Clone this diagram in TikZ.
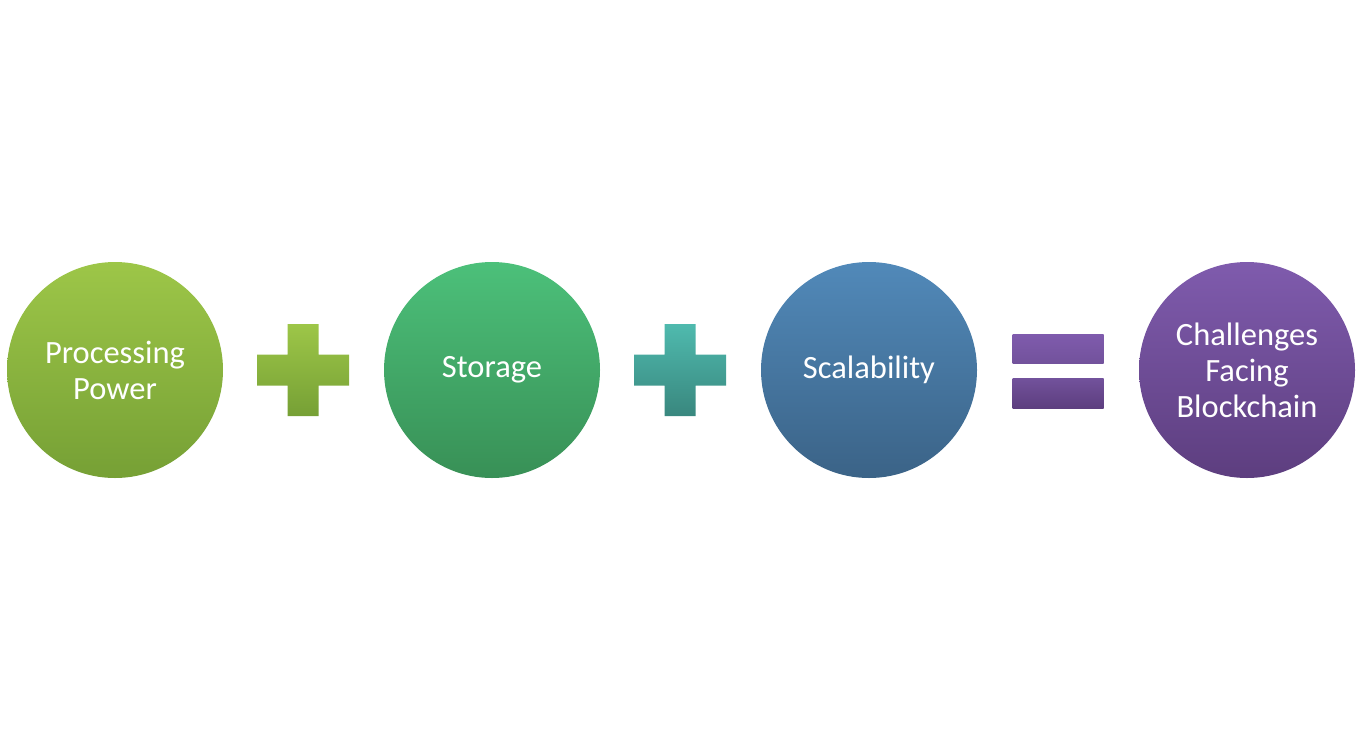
\documentclass[tikz,border=0pt]{standalone}
\usepackage{fontspec}
\setmainfont{Carlito}
\definecolor{gA}{HTML}{9DC648}\definecolor{gB}{HTML}{76A035}
\definecolor{sA}{HTML}{4CC07A}\definecolor{sB}{HTML}{389056}
\definecolor{bA}{HTML}{5189B9}\definecolor{bB}{HTML}{3B6387}
\definecolor{pA}{HTML}{7F5BAD}\definecolor{pB}{HTML}{5D3E7F}
\definecolor{tA}{HTML}{4FBAAE}\definecolor{tB}{HTML}{39877E}
\begin{document}
\begin{tikzpicture}[x=1pt,y=-1pt,
  bubble/.style={circle,minimum size=216pt,inner sep=0pt,text=white,align=center,
    font=\fontsize{32.5}{36}\selectfont},
  opbar/.style={rectangle,inner sep=0pt}]
\useasboundingbox (0,0) rectangle (1362,742);
\node[bubble,top color=gA,bottom color=gB] (pp) at (115,370) {Processing\\Power};
\node[bubble,top color=sA,bottom color=sB] (st) at (492,370) {Storage};
\node[bubble,top color=bA,bottom color=bB] (sc) at (869,370) {Scalability};
\node[bubble,top color=pA,bottom color=pB] (ch) at (1247,370) {Challenges\\Facing\\Blockchain};
% plus signs
\coordinate (p1) at (303,370);
\coordinate (p2) at (680,370);
\foreach \c/\ca/\cb in {p1/gA/gB,p2/tA/tB}{
  \shade[top color=\ca,bottom color=\cb] ([shift={(-15.5,-46)}]\c) -- ++(31,0) -- ++(0,30.5) -- ++(30.5,0) -- ++(0,31) -- ++(-30.5,0) -- ++(0,30.5) -- ++(-31,0) -- ++(0,-30.5) -- ++(-30.5,0) -- ++(0,-31) -- ++(30.5,0) -- cycle;
}
% equals
\node[opbar,minimum width=91pt,minimum height=29pt,top color=pA,bottom color=pA!90!black] (e1) at (1058,348.5) {};
\node[opbar,minimum width=91pt,minimum height=30pt,top color=pA!90!black,bottom color=pB] (e2) at (1058,393) {};
\end{tikzpicture}
\end{document}
